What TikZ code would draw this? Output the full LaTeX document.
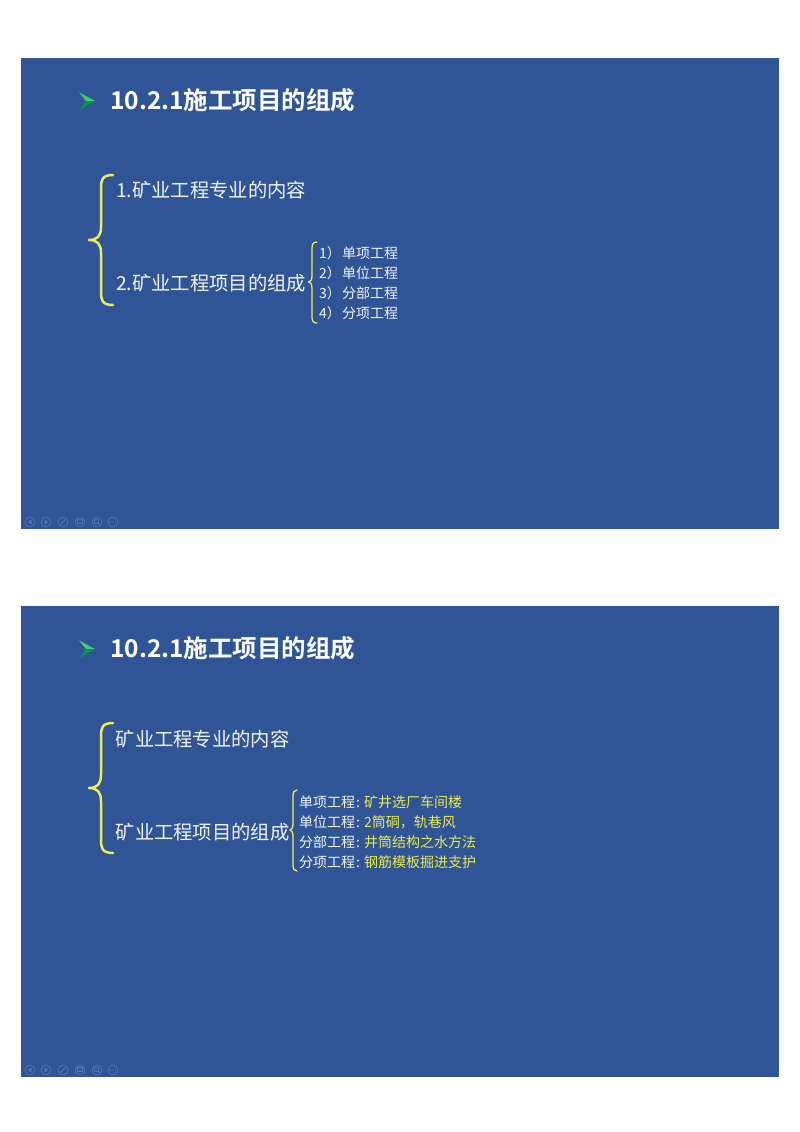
\documentclass[tikz,border=0pt]{standalone}
\usepackage{fontspec}
\setmainfont{Noto Sans CJK SC}
\newfontfamily\cjkb{Noto Sans CJK SC Bold}
\definecolor{slidebg}{HTML}{2F5597}
\definecolor{bracey}{HTML}{EFEC50}
\definecolor{softw}{HTML}{F2F5FA}
\definecolor{ylw}{HTML}{E8EA50}
\definecolor{arrowa}{HTML}{3CD070}
\definecolor{arrowb}{HTML}{12914F}
\definecolor{iconc}{HTML}{587AB2}
\tikzset{
  x=1pt,y=-1pt,
  slide/.style={fill=slidebg,draw=none},
  titletext/.style={anchor=west,inner sep=0,text=white,font=\cjkb\fontsize{24.5}{28}\selectfont},
  bigtext/.style={anchor=west,inner sep=0,text=softw,font=\fontsize{19.3}{24}\selectfont},
  smalltext/.style={anchor=west,inner sep=0,text=softw,font=\fontsize{14}{17}\selectfont},
  yellowtext/.style={anchor=west,inner sep=0,text=ylw,font=\fontsize{14}{17}\selectfont},
  bigbrace/.style={draw=bracey,line width=2.5pt,line cap=round,line join=round},
  smallbrace/.style={draw=bracey,line width=1.3pt,line cap=round,line join=round},
  icon/.style={circle,draw=iconc,line width=.6pt,minimum size=10pt,inner sep=0},
}
\newcommand{\fullbrace}[8]{% xtop, xspine, xtip, ytop, ymid, ybot, style, curve size
  \draw[#7] (#1,#4) .. controls ({#2+1},#4) and (#2,{#4+.4*#8}) .. (#2,{#4+#8})
    -- (#2,{#5-#8}) .. controls (#2,{#5-.3*#8}) and ({#2-.3*#8},#5) .. (#3,#5)
    .. controls ({#2-.3*#8},#5) and (#2,{#5+.3*#8}) .. (#2,{#5+#8})
    -- (#2,{#6-#8}) .. controls (#2,{#6-.4*#8}) and ({#2+1},#6) .. (#1,#6);
}
\newcommand{\bullethead}[2]{%
  \fill[arrowa] (#1,{#2-8.7}) -- ({#1+16},#2) -- ({#1+7},#2) -- cycle;
  \fill[arrowb] ({#1+.5},{#2+9}) -- ({#1+16},#2) -- ({#1+7},#2) -- cycle;
}
\newcommand{\navicons}[1]{%
  \node[icon] (n1#1) at (30,#1) {};
  \node[icon] (n2#1) at (46,#1) {};
  \node[icon] (n3#1) at (63,#1) {};
  \node[icon] (n4#1) at (80,#1) {};
  \node[icon] (n5#1) at (97,#1) {};
  \node[icon] (n6#1) at (113,#1) {};
  \fill[iconc] (28,#1) -- (31.5,{#1-2.5}) -- (31.5,{#1+2.5}) -- cycle;
  \fill[iconc] (48,#1) -- (44.5,{#1-2.5}) -- (44.5,{#1+2.5}) -- cycle;
  \draw[iconc,line width=1pt] (60.5,{#1+2.5}) -- (65.5,{#1-2.5});
  \draw[iconc,line width=.8pt] (77.5,{#1-2.5}) rectangle (82,{#1+1.5});
  \draw[iconc,line width=.8pt] (96.5,{#1-.5}) circle (2.3);
  \draw[iconc,line width=.8pt] (98.2,{#1+1.2}) -- (100,{#1+3});
  \fill[iconc] (110.5,#1) circle (.7) (113,#1) circle (.7) (115.5,#1) circle (.7);
}
\begin{document}
\begin{tikzpicture}
\useasboundingbox (0,0) rectangle (800,1132);
\fill[white] (0,0) rectangle (800,1132);
% slide 1
\fill[slide] (21,58) rectangle (779,529);
\bullethead{79}{101}
\node[titletext] (t1) at (110,100.5) {10.2.1施工项目的组成};
\fullbrace{113}{101}{89}{175}{240}{305}{bigbrace}{13}
\node[bigtext] (a1) at (116,190.5) {1.矿业工程专业的内容};
\node[bigtext] (a2) at (116,283.5) {2.矿业工程项目的组成};
\fullbrace{317}{312}{308.5}{242}{282}{323}{smallbrace}{6}
\node[smalltext] (b1) at (319,253.5) {1）};
\node[smalltext] (b2) at (319,273.5) {2）};
\node[smalltext] (b3) at (319,293.5) {3）};
\node[smalltext] (b4) at (319,313.5) {4）};
\node[smalltext] (c1) at (342,253.5) {单项工程};
\node[smalltext] (c2) at (342,273.5) {单位工程};
\node[smalltext] (c3) at (342,293.5) {分部工程};
\node[smalltext] (c4) at (342,313.5) {分项工程};
\navicons{522}
% slide 2
\fill[slide] (21,606) rectangle (779,1077);
\bullethead{79}{649}
\node[titletext] (t2) at (110,648.5) {10.2.1施工项目的组成};
\fullbrace{113}{101}{89}{723}{788}{853}{bigbrace}{13}
\node[bigtext] (d1) at (115.5,739) {矿业工程专业的内容};
\node[bigtext] (d2) at (115.5,832) {矿业工程项目的组成};
\fullbrace{297}{293}{290}{790}{830}{871}{smallbrace}{6}
\node[smalltext] (e1) at (299,802) {单项工程\kern .8pt:};
\node[smalltext] (e2) at (299,822) {单位工程\kern .8pt:};
\node[smalltext] (e3) at (299,842) {分部工程\kern .8pt:};
\node[smalltext] (e4) at (299,862) {分项工程\kern .8pt:};
\node[yellowtext] (f1) at (364,802) {矿井选厂车间楼};
\node[yellowtext] (f2) at (364,822) {2筒硐，轨巷风};
\node[yellowtext] (f3) at (364,842) {井筒结构之水方法};
\node[yellowtext] (f4) at (364,862) {钢筋模板掘进支护};
\navicons{1070}
\end{tikzpicture}
\end{document}
